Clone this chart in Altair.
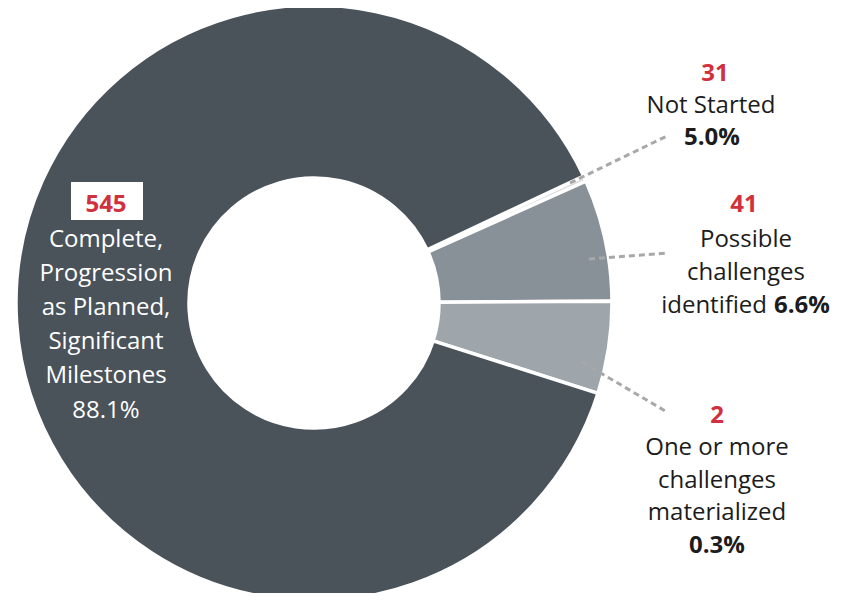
import math
import altair as alt
import pandas as pd

# ---- data (visual order, clockwise) ----
categories = [
    "One or more challenges materialized",
    "Possible challenges identified",
    "Not Started",
    "Complete, Progression as Planned, Significant Milestones",
]
counts = [2, 41, 31, 545]
percents = [0.3, 6.6, 5.0, 88.1]
slice_colors = ["#dcdee0", "#899198", "#9ea5ab", "#4a525a"]

FONT = "Open Sans"
FS = 24
RED = "#d1313d"
INK = "#1c1c1c"

slices = pd.DataFrame({
    "cat": categories,
    "count": counts,
    "pct": percents,
    "idx": list(range(len(categories))),
})

start = math.radians(64.8)

arc = alt.Chart(slices).mark_arc(
    outerRadius=298, innerRadius=125, stroke="white", strokeWidth=3.5
).encode(
    theta=alt.Theta("pct:Q", stack=True,
                    scale=alt.Scale(domain=[0, 100], range=[start, start + 2 * math.pi])),
    order=alt.Order("idx:Q"),
    color=alt.Color("cat:N", scale=alt.Scale(domain=categories, range=slice_colors), legend=None),
    x=alt.value(306),
    y=alt.value(295),
)

# ---- annotation layout (pixel anchors for labels / leaders) ----
leaders = pd.DataFrame({
    "x": [562, 581, 574], "y": [175, 251, 354],
    "x2": [659, 659, 659], "y2": [128, 245, 404],
})
rules = alt.Chart(leaders).mark_rule(
    color="#a8a8a8", strokeWidth=3, strokeDash=[6, 4]
).encode(
    x=alt.X("x:Q", scale=None), y=alt.Y("y:Q", scale=None),
    x2="x2:Q", y2="y2:Q",
)

def pct_txt(i):
    return f"{percents[i]:.1f}%"

# label pieces: (text, x, y, style, align)
pieces = [
    # Not Started
    (str(counts[2]), 707, 73, "red", "center"),
    ("Not Started", 703, 105, "norm", "center"),
    (pct_txt(2), 704, 137, "bold", "center"),
    # Possible challenges identified
    (str(counts[1]), 736, 204, "red", "center"),
    ("Possible", 738, 239, "norm", "center"),
    ("challenges", 738, 272, "norm", "center"),
    ("identified", 759, 305, "norm", "right"),
    (pct_txt(1), 766, 305, "bold", "left"),
    # One or more challenges materialized
    (str(counts[0]), 709, 415, "red", "center"),
    ("One or more", 709, 447, "norm", "center"),
    ("challenges", 709, 480, "norm", "center"),
    ("materialized", 709, 512, "norm", "center"),
    (pct_txt(0), 709, 545, "bold", "center"),
    # Complete
    (str(counts[3]), 98, 204, "red", "center"),
    ("Complete,", 98, 239, "white", "center"),
    ("Progression", 98, 273, "white", "center"),
    ("as Planned,", 98, 307, "white", "center"),
    ("Significant", 98, 341, "white", "center"),
    ("Milestones", 98, 375, "white", "center"),
    (pct_txt(3), 98, 410, "white", "center"),
]
labels = pd.DataFrame(pieces, columns=["text", "x", "y", "style", "align"])

styles = {
    "red": dict(color=RED, fontWeight="bold"),
    "norm": dict(color=INK, fontWeight="normal"),
    "bold": dict(color=INK, fontWeight="bold"),
    "white": dict(color="white", fontWeight="normal"),
}

box = alt.Chart(pd.DataFrame({"x": [63], "x2": [135], "y": [174], "y2": [212]})).mark_rect(
    color="white"
).encode(
    x=alt.X("x:Q", scale=None), x2="x2:Q",
    y=alt.Y("y:Q", scale=None), y2="y2:Q",
)

text_layers = []
for st, props in styles.items():
    for al in ["center", "right", "left"]:
        sub = labels[(labels["style"] == st) & (labels["align"] == al)]
        if len(sub) == 0:
            continue
        text_layers.append(
            alt.Chart(sub).mark_text(
                font=FONT, fontSize=FS, align=al, baseline="alphabetic", **props
            ).encode(
                x=alt.X("x:Q", scale=None),
                y=alt.Y("y:Q", scale=None),
                text="text:N",
            )
        )

chart = alt.layer(arc, rules, box, *text_layers).properties(
    width=838, height=585, autosize="none", padding=0,
    background="white",
).configure_view(stroke=None)

chart.save("out.html", embed_options={"renderer": "svg", "actions": False})
